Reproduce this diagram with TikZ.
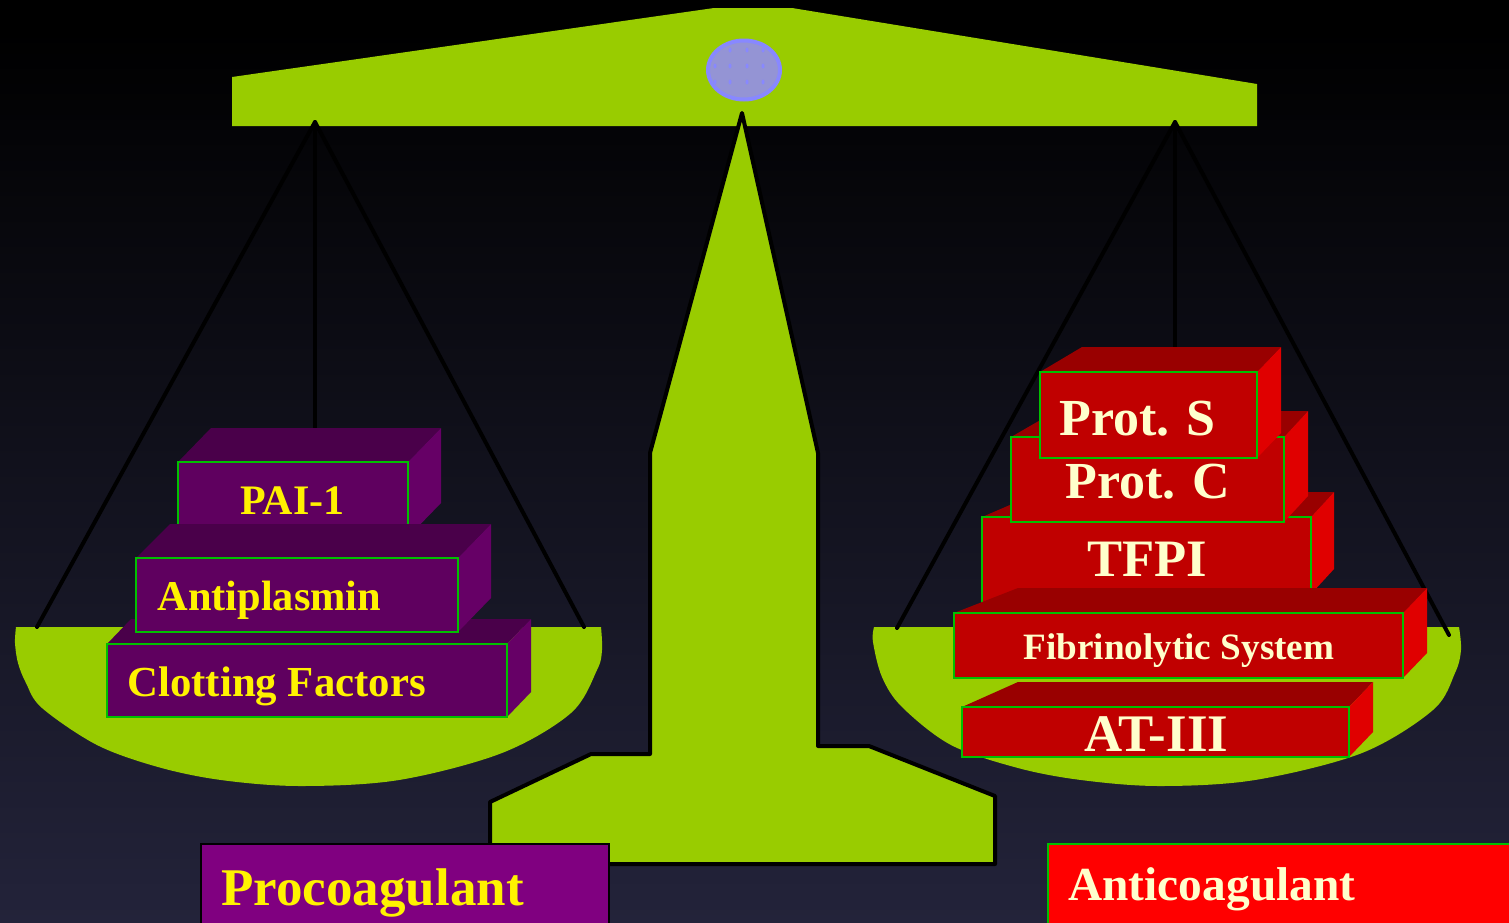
\documentclass[tikz,border=0pt]{standalone}
\usepackage{fontspec}
\setmainfont{Liberation Serif}
\definecolor{leaf}{HTML}{99CC00}
\definecolor{cream}{HTML}{FFFFCC}
\definecolor{rim}{HTML}{00C000}
\definecolor{pivotrim}{HTML}{8888FF}
\definecolor{pivotfill}{HTML}{9494D4}
\definecolor{plumfront}{HTML}{5F005F}
\definecolor{plumtop}{HTML}{4A004A}
\definecolor{plumside}{HTML}{660066}
\definecolor{redfront}{HTML}{C00000}
\definecolor{redtop}{HTML}{990000}
\definecolor{redside}{HTML}{E00000}
\definecolor{nightbase}{HTML}{23233A}
\tikzset{
  cord/.style={draw=black,line width=2pt},
  pan/.style={fill=leaf,draw=none},
  rimline/.style={draw=rim,line width=1.45pt},
  plumslab/.style={front=plumfront,upper=plumtop,flank=plumside},
  redslab/.style={front=redfront,upper=redtop,flank=redside},
  front/.code={\def\slabfront{#1}},
  upper/.code={\def\slabupper{#1}},
  flank/.code={\def\slabflank{#1}},
  slabtext/.style={anchor=base west,inner sep=0pt,font=\bfseries\fontsize{#1}{#1}\selectfont},
  plumtext/.style={slabtext=#1,text=yellow},
  redtext/.style={slabtext=#1,text=cream},
}
% A block seen from above and to the right: x0 y0 x1 y1, back-left shift, back-right shift, rise
\newcommand{\slab}[8]{%
  \begin{scope}[#8]
    \fill[\slabupper] (#1,#2) -- (#1+#5,#2-#7) -- (#3+#6,#2-#7) -- (#3,#2) -- cycle;
    \fill[\slabflank] (#3,#2) -- (#3+#6,#2-#7) -- (#3+#6,#4-#7) -- (#3,#4) -- cycle;
    \filldraw[fill=\slabfront,rimline] (#1,#2) rectangle (#3,#4);
  \end{scope}}
\begin{document}
\begin{tikzpicture}[x=0.5pt,y=-0.5pt]
  \useasboundingbox (0,0) rectangle (1509,922);
  \clip (0,0) rectangle (1509,922);
  \fill[black] (0,0) rectangle (1509,922);
  \shade[top color=black,bottom color=nightbase] (0,30) rectangle (1509,922);

  % Pans
  \fill[pan] plot[smooth,tension=0.55] coordinates {(16,627) (15,643) (18,663) (26,683) (42,708) (97,745) (158,767)
    (221,780) (300,786) (399,780) (502,753) (571,713) (597,670) (602,650) (601,627)} -- cycle;
  \fill[pan] plot[smooth,tension=0.55] coordinates {(874,627) (873,642) (882,677) (902,707) (951,745) (1018,768)
    (1081,780) (1159,786) (1255,780) (1362,753) (1433,710) (1455,673) (1461,650) (1459,627)} -- cycle;

  % Beam
  \fill[leaf] (232,77) -- (714,8) -- (792,8) -- (1257,84) -- (1257,126) -- (232,126) -- cycle;

  % Column and foot
  \filldraw[fill=leaf,draw=black,line width=2pt,line join=round]
    (742,113) -- (818,453) -- (818,746) -- (869,746) -- (995,796) -- (995,864)
    -- (490,864) -- (490,802) -- (591,754) -- (650,754) -- (650,453) -- cycle;

  % Pivot with its dotted weave
  \filldraw[fill=pivotfill,draw=pivotrim,line width=2pt] (744,70) ellipse [x radius=36,y radius=29.5];
  \foreach \px/\py in {730/50,747/50,763/50,715/66,730/66,747/66,763/66,715/82,730/82,747/82,763/82}
    \fill[pivotrim] (\px,\py) ellipse [x radius=1.5,y radius=2.5];

  % Suspension cords
  \coordinate (hookL) at (315,122);
  \coordinate (hookR) at (1175,122);
  \coordinate (panLa) at (37,627);
  \coordinate (panLb) at (315,432);
  \coordinate (panLc) at (584,627);
  \coordinate (panRa) at (897,628);
  \coordinate (panRb) at (1175,350);
  \coordinate (panRc) at (1449,635);
  \draw[cord,line cap=round] (hookL) -- (panLa);
  \draw[cord] (hookL) -- (panLb);
  \draw[cord,line cap=round] (hookL) -- (panLc);
  \draw[cord,line cap=round] (hookR) -- (panRa);
  \draw[cord] (hookR) -- (panRb);
  \draw[cord,line cap=round] (hookR) -- (panRc);

  % Left stack
  \slab{178}{462}{408}{537}{33}{33}{34}{plumslab}
  \slab{107}{644}{507}{717}{24}{24}{25}{plumslab}
  \slab{136}{558}{458}{632}{34}{33}{34}{plumslab}
  \node[plumtext=21] (pai) at (240,514) {PAI-1};
  \node[plumtext=21.2] (antiplasmin) at (157,610) {Antiplasmin};
  \node[plumtext=21.4] (clotting) at (127,696) {Clotting Factors};

  % Right stack: the TFPI face runs down behind the block below it
  \slab{982}{517}{1311}{594}{58}{23}{25}{redslab}
  \filldraw[fill=redfront,rimline] (982,517) rectangle (1311,625);
  \slab{1011}{437}{1284}{522}{45}{24}{26}{redslab}
  \slab{1040}{372}{1257}{458}{42}{24}{25}{redslab}
  \slab{954}{613}{1403}{678}{64}{24}{25}{redslab}
  \slab{962}{707}{1349}{757}{56}{24}{25}{redslab}
  \node[redtext=26] (prots) at (1059,435) {Prot. S};
  \node[redtext=26] (protc) at (1065,498) {Prot. C};
  \node[redtext=26.3] (tfpi) at (1087,576) {TFPI};
  \node[redtext=18.6] (fibrin) at (1023,659) {Fibrinolytic System};
  \node[redtext=26.4] (at3) at (1084,751) {AT-III};

  % Legend
  \filldraw[fill={rgb,255:red,128;green,0;blue,128},draw=black,line width=1.45pt] (201,844) rectangle (609,940);
  \filldraw[fill=red,rimline] (1048,844) rectangle (1530,940);
  \node[plumtext=26.5] (pro) at (221,905) {Procoagulant};
  \node[redtext=23.7] (anti) at (1068,900) {Anticoagulant};
\end{tikzpicture}
\end{document}
